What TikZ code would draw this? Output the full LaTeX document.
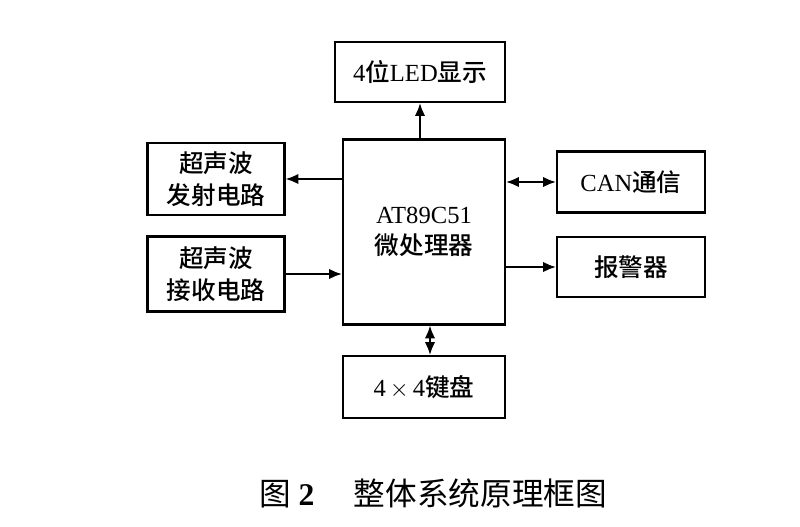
\documentclass[tikz,border=0pt]{standalone}
\usepackage{fontspec}
\setmainfont{Liberation Serif}
\newfontfamily\cjk{Noto Sans CJK SC Medium}
\newfontfamily\cjkr{Noto Sans CJK SC}
\newcommand{\zh}[1]{{\cjk #1}}
\usetikzlibrary{arrows.meta}
\tikzset{
  blk/.style={draw, line width=1.8pt, inner sep=0pt, font=\fontsize{21}{27}\selectfont, align=center},
  con/.style={line width=1.8pt, -{Latex[length=11pt,width=9pt]}},
  bicon/.style={line width=1.8pt, {Latex[length=11pt,width=9pt]}-{Latex[length=11pt,width=9pt]}}
}
\begin{document}
\begin{tikzpicture}[x=0.03cm, y=-0.03cm]
  \useasboundingbox (0,0) rectangle (800,527);
  % blocks
  \node[blk, minimum width=162*0.03cm, minimum height=185*0.03cm] (mcu) at (424,232) {AT89C51\\\zh{微处理器}};
  \node[blk, minimum width=170*0.03cm, minimum height=60*0.03cm] (led) at (420,72) {4\zh{位}LED\zh{显示}};
  \node[blk, minimum width=137*0.03cm, minimum height=72*0.03cm] (tx) at (216,179) {\zh{超声波}\\\zh{发射电路}};
  \node[blk, minimum width=137*0.03cm, minimum height=75*0.03cm] (rx) at (216,274) {\zh{超声波}\\\zh{接收电路}};
  \node[blk, minimum width=148*0.03cm, minimum height=61*0.03cm] (can) at (631,182) {CAN\zh{通信}};
  \node[blk, minimum width=148*0.03cm, minimum height=60*0.03cm] (alarm) at (631,267) {\zh{报警器}};
  \node[blk, minimum width=162*0.03cm, minimum height=62*0.03cm] (key) at (424,387) {4\,$\times$\,4\zh{键盘}};
  % connectors
  \draw[con] (mcu.north -| led.south) -- (led.south);
  \draw[con] (mcu.west |- tx.east) -- (tx.east);
  \draw[con] (rx.east) -- (mcu.west |- rx.east);
  \draw[bicon] (mcu.east |- can.west) -- (can.west);
  \draw[con] (mcu.east |- alarm.west) -- (alarm.west);
  \draw[bicon] ([xshift=6*0.03cm]mcu.south) -- ([xshift=6*0.03cm]key.north);
  % caption
  \node[font=\fontsize{27}{32}\selectfont] (cap) at (433,493) {{\cjkr 图}\ \textbf{2}\quad\ {\cjkr 整体系统原理框图}};
\end{tikzpicture}
\end{document}
